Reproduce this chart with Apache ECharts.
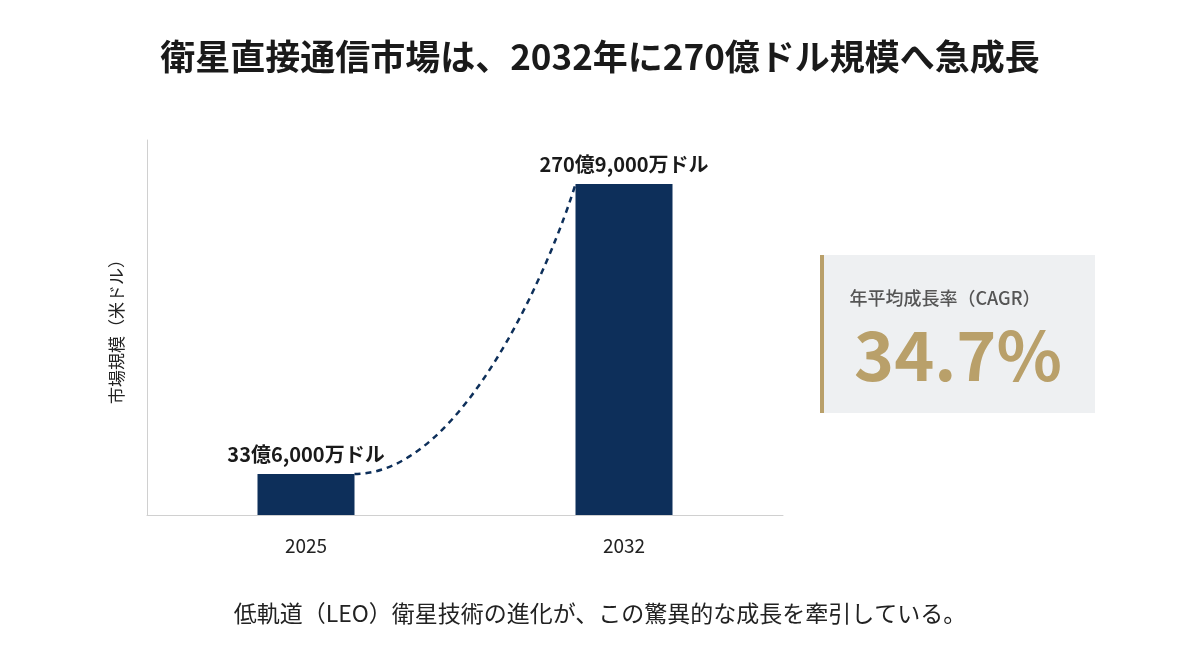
<!DOCTYPE html>
<html><head><meta charset="utf-8">
<script src="https://cdn.jsdelivr.net/npm/echarts@6/dist/echarts.min.js"></script>
<style>html,body{margin:0;padding:0;background:#fff}#c{width:1200px;height:670px}</style>
</head><body><div id="c"></div>
<script>
const categories = ['2025', '2032'];
const values = [33.6, 270.9];
const valueLabels = ['33億6,000万ドル', '270億9,000万ドル'];
const cagrTitle = '年平均成長率（CAGR）';
const cagrValue = '34.7%';
const F = '"Noto Sans CJK JP","Noto Sans",sans-serif';
const chart = echarts.init(document.getElementById('c'));
const BW = 97;
const option = {
  backgroundColor: '#fff',
  title: [
    {text: '衛星直接通信市場は、2032年に270億ドル規模へ急成長', left: 'center', top: 34,
     textStyle: {fontFamily: F, fontSize: 35, fontWeight: 'bold', color: '#1a1a1a'}},
    {text: '低軌道（LEO）衛星技術の進化が、この驚異的な成長を牽引している。', left: 'center', top: 597,
     textStyle: {fontFamily: F, fontSize: 23, fontWeight: 'normal', color: '#222'}}
  ],
  grid: {left: 147, right: 417, top: 140, bottom: 155},
  xAxis: {type: 'category', data: categories,
    axisLine: {lineStyle: {color: '#d0d0d0'}}, axisTick: {show: false},
    axisLabel: {fontFamily: F, fontSize: 19, color: '#222', margin: 21}},
  yAxis: {type: 'value', min: 0, max: 307, name: '市場規模（米ドル）', nameLocation: 'middle', nameGap: 22,
    nameRotate: 90, nameTextStyle: {fontFamily: F, fontSize: 17, color: '#222'},
    axisLine: {show: true, lineStyle: {color: '#d0d0d0'}}, axisTick: {show: false},
    axisLabel: {show: false}, splitLine: {show: false}},
  series: [{type: 'bar', data: values, barWidth: BW, itemStyle: {color: '#0d2f5a'},
    label: {show: true, position: 'top', distance: 10, fontFamily: F, fontSize: 20, fontWeight: 'bold', color: '#1a1a1a',
      formatter: p => valueLabels[p.dataIndex]}}]
};
chart.setOption(option);
const p1 = chart.convertToPixel({seriesIndex: 0}, [0, values[0]]);
const p2 = chart.convertToPixel({seriesIndex: 0}, [1, values[1]]);
const x1 = p1[0] + BW / 2, y1 = p1[1], x2 = p2[0] - BW / 2, y2 = p2[1];
const dx = x2 - x1, dy = y2 - y1;
chart.setOption({graphic: [
  {type: 'bezierCurve', shape: {x1: x1, y1: y1, cpx1: x1 + dx * 0.5, cpy1: y1, cpx2: x1 + dx * 0.9, cpy2: y1 + dy * 0.75, x2: x2, y2: y2},
   style: {stroke: '#0d2f5a', lineWidth: 2.5, lineDash: [6, 5], fill: null}},
  {type: 'rect', shape: {x: 820, y: 255, width: 275, height: 158}, style: {fill: '#eef0f2'}},
  {type: 'rect', shape: {x: 820, y: 255, width: 4, height: 158}, style: {fill: '#b9a06a'}},
  {type: 'text', x: 945, y: 298, style: {text: cagrTitle, font: '500 18px ' + F, fill: '#555', align: 'center', verticalAlign: 'middle'}},
  {type: 'text', x: 958, y: 355, style: {text: cagrValue, font: 'bold 68px ' + F, fill: '#b9a06a', align: 'center', verticalAlign: 'middle'}}
]});
</script></body></html>
